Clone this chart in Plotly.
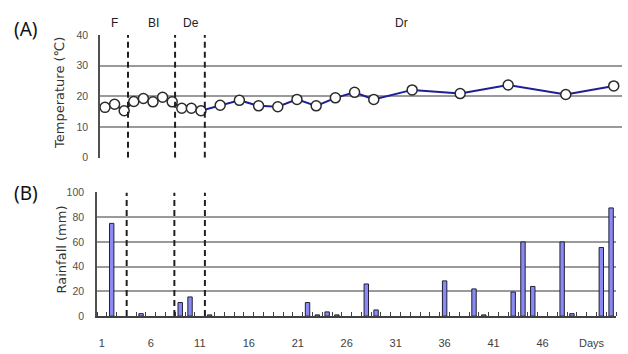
import plotly.graph_objects as go

# Air temperature (A)
temp_days = [1, 2, 3, 4, 5, 6, 7, 8, 9, 10, 11, 13, 15, 17, 19, 21, 23, 25, 27, 29, 33, 38, 43, 49, 54]
temp_vals = [16.4, 17.4, 15.3, 18.3, 19.3, 18.2, 19.7, 18.2, 16.1, 16.1, 15.3, 17.1, 18.7, 16.9, 16.6,
             19.0, 16.9, 19.5, 21.3, 19.0, 22.1, 20.9, 23.7, 20.6, 23.4]

# Daily rainfall (B)
rain_days = [2, 5, 9, 10, 12, 22, 23, 24, 25, 28, 29, 36, 39, 40, 43, 44, 45, 48, 49, 52, 53]
rain_vals = [75, 2, 11, 15.5, 1, 11, 1, 3.4, 1, 26, 5, 28.5, 22, 1, 19.5, 60, 24, 60, 2, 55.5, 87.5]

x_tickvals = [1, 6, 11, 16, 21, 26, 31, 36, 41, 46, 51]
x_ticktext = ["1", "6", "11", "16", "21", "26", "31", "36", "41", "46", "Days"]

# stage labels and their boundaries
stage_names = ["F", "BI", "De", "Dr"]
stage_label_x = [2.0, 6.1, 10.0, 31.9]
bounds_a = [3.4, 8.3, 11.4]
bounds_b = [3.53, 8.4, 11.52]

W, H = 628, 354
px = lambda v: v / W
py = lambda v: 1 - v / H

tick_font = dict(family="Liberation Sans, Arial", size=10.5, color="#505050")
grid_col = "#9a9a9a"

fig = go.Figure()

fig.add_trace(go.Scatter(
    x=temp_days, y=temp_vals, mode="lines+markers",
    line=dict(color="#1e1e96", width=2),
    marker=dict(symbol="circle", size=10, color="white",
                line=dict(color="#2a2a2a", width=1.5)),
    xaxis="x", yaxis="y", showlegend=False, cliponaxis=False))

fig.add_trace(go.Bar(
    x=rain_days, y=rain_vals, width=0.45,
    marker=dict(color="#8a8af2", line=dict(color="#202038", width=1)),
    xaxis="x2", yaxis="y2", showlegend=False))

fig.update_layout(
    width=W, height=H, margin=dict(l=0, r=0, t=0, b=0),
    paper_bgcolor="white", plot_bgcolor="white",
    xaxis=dict(domain=[px(100), px(622)], range=[0.48, 54.86], showgrid=False, anchor="y",
               showticklabels=False, ticks="", zeroline=False, showline=False),
    yaxis=dict(domain=[py(157), py(30)], range=[0, 40], tickvals=[0, 10, 20, 30, 40], anchor="x",
               showgrid=True, gridcolor=grid_col, gridwidth=2, zeroline=False,
               showline=True, linecolor="#505050", linewidth=1.5, ticks="",
               tickfont=tick_font, ticklabelstandoff=8),
    xaxis2=dict(domain=[px(97), px(616)], range=[0.5, 53.5], showgrid=False, anchor="y2",
                tickvals=x_tickvals, ticktext=x_ticktext, ticks="",
                tickfont=dict(family="Liberation Sans, Arial", size=11, color="#404040"),
                ticklabelstandoff=16, zeroline=False,
                showline=True, linecolor="#404040", linewidth=1.5,
                minor=dict(ticks="inside", ticklen=4, tick0=0.5, dtick=1,
                           tickcolor="#404040", tickwidth=1, showgrid=False)),
    yaxis2=dict(domain=[py(321), py(193)], range=[0, 100], anchor="x2",
                tickvals=[0, 20, 40, 60, 80, 100],
                showgrid=True, gridcolor=grid_col, gridwidth=2, zeroline=False,
                showline=True, linecolor="#505050", linewidth=1.5, ticks="",
                tickfont=tick_font, ticklabelstandoff=9),
)

# stage boundaries
for b in bounds_a:
    fig.add_shape(type="line", xref="x", yref="y", x0=b, x1=b, y0=0, y1=40,
                  line=dict(color="#202020", width=2, dash="6px,4px"))
for b in bounds_b:
    fig.add_shape(type="line", xref="x2", yref="y2", x0=b, x1=b, y0=0, y1=100,
                  line=dict(color="#202020", width=2, dash="6px,4px"))

# stage names above panel A
for name, sx in zip(stage_names, stage_label_x):
    fig.add_annotation(x=sx, y=py(18), xref="x", yref="paper", text=name,
                       xanchor="center", yanchor="middle", showarrow=False,
                       font=dict(family="Liberation Sans, Arial", size=12, color="#222"))

# panel letters
for lab, yy in (("(A)", 24), ("(B)", 194)):
    fig.add_annotation(x=px(26), y=py(yy), xref="paper", yref="paper", text=lab,
                       xanchor="center", yanchor="middle", showarrow=False,
                       font=dict(family="Noto Sans", size=19, color="#111"))

# axis titles
fig.add_annotation(x=px(60), y=py(90), xref="paper", yref="paper", text="Temperature (℃)",
                   textangle=-90, xanchor="center", yanchor="middle", showarrow=False,
                   font=dict(family="DejaVu Sans", size=13, color="#333"))
fig.add_annotation(x=px(61), y=py(252), xref="paper", yref="paper", text="Rainfall (mm)",
                   textangle=-90, xanchor="center", yanchor="middle", showarrow=False,
                   font=dict(family="DejaVu Sans", size=13, color="#333"))

fig.write_html("out.html")
